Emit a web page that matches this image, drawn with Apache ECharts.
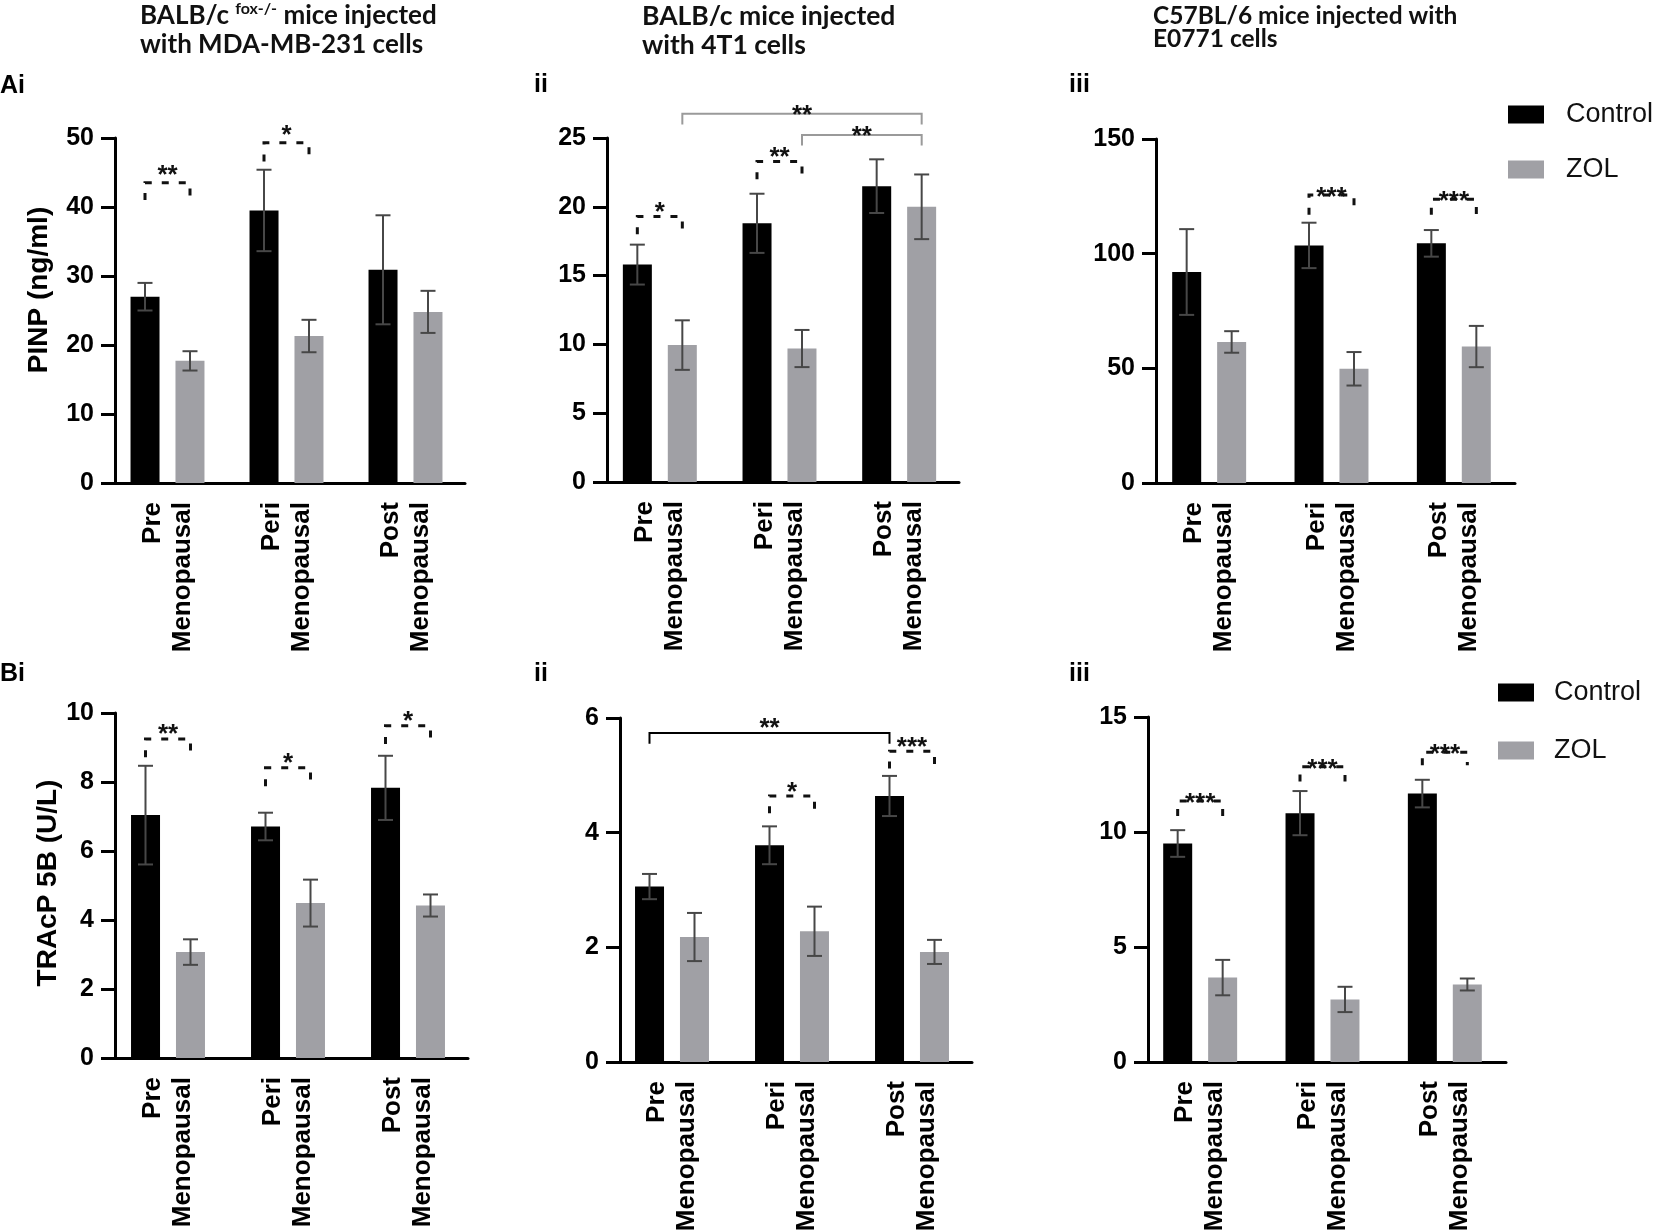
<!DOCTYPE html>
<html><head><meta charset="utf-8">
<script src="https://cdn.jsdelivr.net/npm/echarts@6/dist/echarts.min.js"></script>
<style>html,body{margin:0;padding:0;background:#fff}#c{width:1654px;height:1230px}</style>
</head><body><div id="c"></div><script>
// ---------------- data ----------------
const categories = ['Pre\nMenopausal', 'Peri\nMenopausal', 'Post\nMenopausal'];
const groupNames = ['Control', 'ZOL'];

// A i : PINP (ng/ml), BALB/c fox-/- + MDA-MB-231
const pinpMdaControl = [27.0, 39.5, 30.9];
const pinpMdaControlErr = [2.0, 5.9, 7.9];
const pinpMdaZol = [17.7, 21.3, 24.8];
const pinpMdaZolErr = [1.4, 2.35, 3.05];
const pinpMdaTicks = { min: 0, max: 50, interval: 10 };

// A ii : PINP, BALB/c + 4T1
const pinp4t1Control = [15.8, 18.8, 21.5];
const pinp4t1ControlErr = [1.45, 2.15, 1.95];
const pinp4t1Zol = [9.95, 9.7, 20.0];
const pinp4t1ZolErr = [1.8, 1.35, 2.35];
const pinp4t1Ticks = { min: 0, max: 25, interval: 5 };

// A iii : PINP, C57BL/6 + E0771
const pinpE0771Control = [92.0, 103.6, 104.5];
const pinpE0771ControlErr = [18.7, 9.9, 5.8];
const pinpE0771Zol = [61.5, 49.8, 59.5];
const pinpE0771ZolErr = [4.7, 7.3, 9.0];
const pinpE0771Ticks = { min: 0, max: 150, interval: 50 };

// B i : TRAcP 5B (U/L), MDA-MB-231
const tracpMdaControl = [7.04, 6.71, 7.83];
const tracpMdaControlErr = [1.43, 0.40, 0.93];
const tracpMdaZol = [3.07, 4.49, 4.42];
const tracpMdaZolErr = [0.37, 0.68, 0.32];
const tracpMdaTicks = { min: 0, max: 10, interval: 2 };

// B ii : TRAcP 5B, 4T1
const tracp4t1Control = [3.06, 3.78, 4.64];
const tracp4t1ControlErr = [0.22, 0.33, 0.35];
const tracp4t1Zol = [2.18, 2.28, 1.92];
const tracp4t1ZolErr = [0.42, 0.43, 0.21];
const tracp4t1Ticks = { min: 0, max: 6, interval: 2 };

// B iii : TRAcP 5B, E0771
const tracpE0771Control = [9.5, 10.82, 11.67];
const tracpE0771ControlErr = [0.58, 0.96, 0.6];
const tracpE0771Zol = [3.67, 2.72, 3.37];
const tracpE0771ZolErr = [0.77, 0.55, 0.26];
const tracpE0771Ticks = { min: 0, max: 15, interval: 5 };

// significance: from/to = [categoryIndex, group(0 Control,1 ZOL)], y = bracket level, leg = leg end (data units)
const sigPinpMda = [
  { from: [0, 0], to: [0, 1], y: 43.5, leg: 41.0, label: '**', kind: 'within' },
  { from: [1, 0], to: [1, 1], y: 49.3, leg: 46.6, label: '*', kind: 'within' }
];
const sigPinp4t1 = [
  { from: [0, 0], to: [0, 1], y: 19.3, leg: 18.0, label: '*', kind: 'within' },
  { from: [1, 0], to: [1, 1], y: 23.3, leg: 22.0, label: '**', kind: 'within' },
  { from: [0, 1], to: [2, 1], y: 26.76, leg: 25.98, label: '**', kind: 'between' },
  { from: [1, 1], to: [2, 1], y: 25.22, leg: 24.45, label: '**', kind: 'between' }
];
const sigPinpE0771 = [
  { from: [1, 0], to: [1, 1], y: 125.6, leg: 117, label: '***', kind: 'within' },
  { from: [2, 0], to: [2, 1], y: 123.7, leg: 117, label: '***', kind: 'within' }
];
const sigTracpMda = [
  { from: [0, 0], to: [0, 1], y: 9.25, leg: 8.72, label: '**', kind: 'within' },
  { from: [1, 0], to: [1, 1], y: 8.41, leg: 7.88, label: '*', kind: 'within' },
  { from: [2, 0], to: [2, 1], y: 9.63, leg: 9.1, label: '*', kind: 'within' }
];
const sigTracp4t1 = [
  { from: [1, 0], to: [1, 1], y: 4.64, leg: 4.34, label: '*', kind: 'within' },
  { from: [2, 0], to: [2, 1], y: 5.42, leg: 5.12, label: '***', kind: 'within' },
  { from: [0, 0], to: [2, 0], y: 5.74, leg: 5.55, label: '**', kind: 'between' }
];
const sigTracpE0771 = [
  { from: [0, 0], to: [0, 1], y: 11.35, leg: 10.7, label: '***', kind: 'within' },
  { from: [1, 0], to: [1, 1], y: 12.84, leg: 12.2, label: '***', kind: 'within' },
  { from: [2, 0], to: [2, 1], y: 13.47, leg: 12.9, label: '***', kind: 'within' }
];

// ---------------- layout / style ----------------
const FONT = '"Liberation Sans", Arial, sans-serif';
const BLACK = '#000000';
const GREY = '#a0a0a5';
const ERR = '#474747';
const BAR_W = 29;
const OFF = 22.5; // half distance between paired bar centres

const panels = [
  { grid: { left: 108, top: 138, width: 357, height: 345 }, yOff: -7, c: pinpMdaControl, ce: pinpMdaControlErr, z: pinpMdaZol, ze: pinpMdaZolErr, t: pinpMdaTicks, sig: sigPinpMda, gapW: 10, gapB: 1, bColor: '#999' },
  { grid: { left: 600, top: 138, width: 359, height: 344 }, yOff: -7, c: pinp4t1Control, ce: pinp4t1ControlErr, z: pinp4t1Zol, ze: pinp4t1ZolErr, t: pinp4t1Ticks, sig: sigPinp4t1, gapW: 7, gapB: 1, bColor: '#9a9a9a' },
  { grid: { left: 1148, top: 139, width: 367, height: 344 }, yOff: -8, c: pinpE0771Control, ce: pinpE0771ControlErr, z: pinpE0771Zol, ze: pinpE0771ZolErr, t: pinpE0771Ticks, sig: sigPinpE0771, gapW: 0, gapB: 0, bColor: '#000' },
  { grid: { left: 108, top: 713, width: 360, height: 345 }, yOff: -7, c: tracpMdaControl, ce: tracpMdaControlErr, z: tracpMdaZol, ze: tracpMdaZolErr, t: tracpMdaTicks, sig: sigTracpMda, gapW: 7, gapB: 7, bColor: '#000' },
  { grid: { left: 612, top: 718, width: 360, height: 344 }, yOff: -8, c: tracp4t1Control, ce: tracp4t1ControlErr, z: tracp4t1Zol, ze: tracp4t1ZolErr, t: tracp4t1Ticks, sig: sigTracp4t1, gapW: 6, gapB: 7, bColor: '#000' },
  { grid: { left: 1139, top: 717, width: 367, height: 345 }, yOff: -9, c: tracpE0771Control, ce: tracpE0771ControlErr, z: tracpE0771Zol, ze: tracpE0771ZolErr, t: tracpE0771Ticks, sig: sigTracpE0771, gapW: 0, gapB: 0, bColor: '#000' }
];

function errRender(params, api) {
  const cat = api.value(0), mean = api.value(1), err = api.value(2), g = api.value(3);
  const x = api.coord([cat, mean])[0] + (g === 0 ? -OFF : OFF);
  const yt = api.coord([cat, mean + err])[1];
  const yb = api.coord([cat, mean - err])[1];
  const st = { stroke: ERR, lineWidth: 2 };
  return { type: 'group', children: [
    { type: 'line', shape: { x1: x, y1: yt, x2: x, y2: yb }, style: st },
    { type: 'line', shape: { x1: x - 7.5, y1: yt, x2: x + 7.5, y2: yt }, style: st },
    { type: 'line', shape: { x1: x - 7.5, y1: yb, x2: x + 7.5, y2: yb }, style: st }
  ] };
}

function sigRender(p) {
  return function (params, api) {
    const s = p.sig[params.dataIndex];
    const x1 = api.coord([s.from[0], 0])[0] + (s.from[1] ? OFF : -OFF);
    const x2 = api.coord([s.to[0], 0])[0] + (s.to[1] ? OFF : -OFF);
    const y = api.coord([0, s.y])[1];
    const yl = api.coord([0, s.leg])[1];
    const within = s.kind === 'within';
    const gap = within ? p.gapW : p.gapB;
    return { type: 'group', children: [
      { type: 'polyline', shape: { points: [[x1, yl], [x1, y], [x2, y], [x2, yl]] },
        style: { stroke: within ? '#111' : p.bColor, lineWidth: within ? 3 : 2, fill: null, lineDash: within ? [7, 10] : null } },
      { type: 'text', x: (x1 + x2) / 2, y: y - gap + 3,
        style: { text: s.label, font: 'bold 26px ' + FONT, fill: '#111', align: 'center', verticalAlign: 'middle' } }
    ] };
  };
}

const grid = [], xAxis = [], yAxis = [], series = [];
panels.forEach((p, i) => {
  grid.push(Object.assign({ containLabel: false, outerBoundsMode: 'none' }, p.grid));
  xAxis.push({
    type: 'category', gridIndex: i, data: categories,
    axisLine: { lineStyle: { color: BLACK, width: 3 } },
    axisTick: { alignWithLabel: true, length: 14, lineStyle: { color: BLACK, width: 3 } },
    axisLabel: { rotate: 90, margin: 19, interval: 0, color: BLACK, fontFamily: FONT, fontWeight: 'bold', fontSize: 26, lineHeight: 30 },
    splitLine: { show: false }
  });
  yAxis.push({
    type: 'value', gridIndex: i, min: p.t.min, max: p.t.max, interval: p.t.interval, offset: p.yOff,
    axisLine: { show: true, lineStyle: { color: BLACK, width: 3 } },
    axisTick: { show: true, length: 14, lineStyle: { color: BLACK, width: 3 } },
    axisLabel: { margin: 21, color: BLACK, fontFamily: FONT, fontWeight: 'bold', fontSize: 25 },
    splitLine: { show: false }
  });
  series.push({ type: 'bar', name: groupNames[0], xAxisIndex: i, yAxisIndex: i, data: p.c, barWidth: BAR_W, barGap: '55%', itemStyle: { color: BLACK } });
  series.push({ type: 'bar', name: groupNames[1], xAxisIndex: i, yAxisIndex: i, data: p.z, barWidth: BAR_W, barGap: '55%', itemStyle: { color: GREY } });
  const ed = [];
  p.c.forEach((v, k) => ed.push([k, v, p.ce[k], 0]));
  p.z.forEach((v, k) => ed.push([k, v, p.ze[k], 1]));
  series.push({ type: 'custom', xAxisIndex: i, yAxisIndex: i, data: ed, renderItem: errRender, clip: false, z: 5, silent: true });
  series.push({ type: 'custom', xAxisIndex: i, yAxisIndex: i, data: p.sig.map(s => [s.from[0], s.y]), renderItem: sigRender(p), clip: false, z: 6, silent: true });
});

const legendBase = {
  orient: 'vertical', itemWidth: 36, itemHeight: 18, padding: 0, selectedMode: false, icon: 'rect',
  data: groupNames,
  textStyle: { fontSize: 27, fontFamily: FONT, color: '#111', lineHeight: 18, padding: [0, 0, 0, 17] }
};
const legend = [
  Object.assign({}, legendBase, { left: 1508, top: 101, itemGap: 28 }),
  Object.assign({}, legendBase, { left: 1498, top: 679, itemGap: 31, textStyle: Object.assign({}, legendBase.textStyle, { padding: [0, 0, 0, 15] }) })
];

function titleText(x, y, text, lh, size) {
  const f = 'bold ' + size + 'px Lato, "Open Sans", sans-serif';
  return { type: 'text', x: x, y: y, style: { text: text, fill: '#111', align: 'left', verticalAlign: 'top',
    rich: { a: { font: f, lineHeight: lh, fill: '#111' }, s: { font: 'bold 16px Lato, sans-serif', lineHeight: 18, verticalAlign: 'top', fill: '#111' } } } };
}
function panelLabel(x, y, text) {
  return { type: 'text', x: x, y: y, style: { text: text, font: 'bold 25px ' + FONT, fill: '#000', align: 'left', verticalAlign: 'middle' } };
}
function yName(x, y, text) {
  return { type: 'text', x: x, y: y, rotation: Math.PI / 2, style: { text: text, font: 'bold 28px ' + FONT, fill: '#000', align: 'center', verticalAlign: 'middle' } };
}

const graphic = [
  titleText(140, 1, '{a|BALB/c }{s|fox-/-}{a| mice injected}\n{a|with MDA-MB-231 cells}', 29, 26),
  titleText(642, 2, '{a|BALB/c mice injected}\n{a|with 4T1 cells}', 29, 26.5),
  titleText(1153, 5, '{a|C57BL/6 mice injected with}\n{a|E0771 cells}', 23, 24.5),
  panelLabel(0, 86, 'Ai'), panelLabel(534, 85, 'ii'), panelLabel(1069, 85, 'iii'),
  panelLabel(0, 674, 'Bi'), panelLabel(534, 674, 'ii'), panelLabel(1069, 674, 'iii'),
  yName(39, 290, 'PINP (ng/ml)'),
  yName(48, 883, 'TRAcP 5B (U/L)')
];

const chart = echarts.init(document.getElementById('c'), null, { renderer: 'canvas' });
chart.setOption({ animation: false, backgroundColor: '#ffffff', grid, xAxis, yAxis, series, legend, graphic, tooltip: { show: false } });
</script></body></html>
